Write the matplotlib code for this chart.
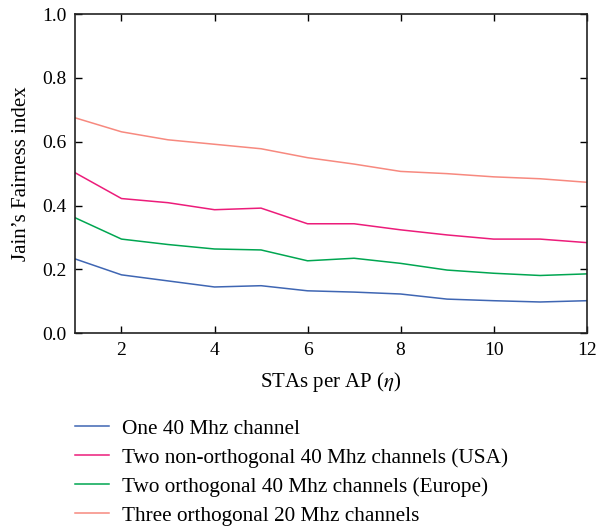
import matplotlib.pyplot as plt
import numpy as np

plt.rcParams['font.family'] = ['Liberation Serif', 'DejaVu Serif']
plt.rcParams['mathtext.fontset'] = 'stix'

sta_per_ap = [1, 2, 3, 4, 5, 6, 7, 8, 9, 10, 11, 12]

one_40 = [0.233, 0.183, 0.164, 0.145, 0.149, 0.133, 0.129, 0.123, 0.107, 0.102, 0.098, 0.102]
two_non_orth_usa = [0.503, 0.422, 0.409, 0.387, 0.392, 0.343, 0.343, 0.324, 0.308, 0.295, 0.295, 0.284]
two_orth_europe = [0.362, 0.295, 0.278, 0.264, 0.261, 0.227, 0.235, 0.219, 0.198, 0.188, 0.181, 0.186]
three_orth_20 = [0.675, 0.631, 0.606, 0.592, 0.578, 0.550, 0.530, 0.507, 0.500, 0.490, 0.484, 0.473]

labels = ['One 40 Mhz channel',
          'Two non-orthogonal 40 Mhz channels (USA)',
          'Two orthogonal 40 Mhz channels (Europe)',
          'Three orthogonal 20 Mhz channels']
colors = ['#3f66b3', '#ec1c7a', '#00a651', '#f7897f']

fig = plt.figure(figsize=(5.97, 5.29), dpi=100)
ax = fig.add_axes([0.1256, 0.370, 0.857, 0.6035])

for ys, lab, c in zip([one_40, two_non_orth_usa, two_orth_europe, three_orth_20], labels, colors):
    ax.plot(sta_per_ap, ys, color=c, lw=1.1, label=lab)

ax.set_xlim(1, 12)
ax.set_ylim(0, 1.0)
ax.set_xticks([2, 4, 6, 8, 10, 12])
ax.set_yticks(np.arange(0, 1.01, 0.2))
ax.set_yticklabels(['%.1f' % v for v in np.arange(0, 1.01, 0.2)])
ax.tick_params(direction='in', top=True, right=True, labelsize=14, length=5, width=1, pad=6)
for s in ax.spines.values():
    s.set_linewidth(1.2)
    s.set_color('#222222')

ax.set_xlabel(r"STAs per AP ($\eta$)", fontsize=15, labelpad=8)
ax.set_ylabel("Jain\u2019s Fairness index", fontsize=15, labelpad=8)

ax.legend(loc='upper left', bbox_to_anchor=(0.0, -0.268), frameon=False,
          fontsize=15.3, handlelength=1.6, handletextpad=0.6, labelspacing=0.43,
          borderaxespad=0, borderpad=0)

fig.savefig('out.png', dpi=100)
